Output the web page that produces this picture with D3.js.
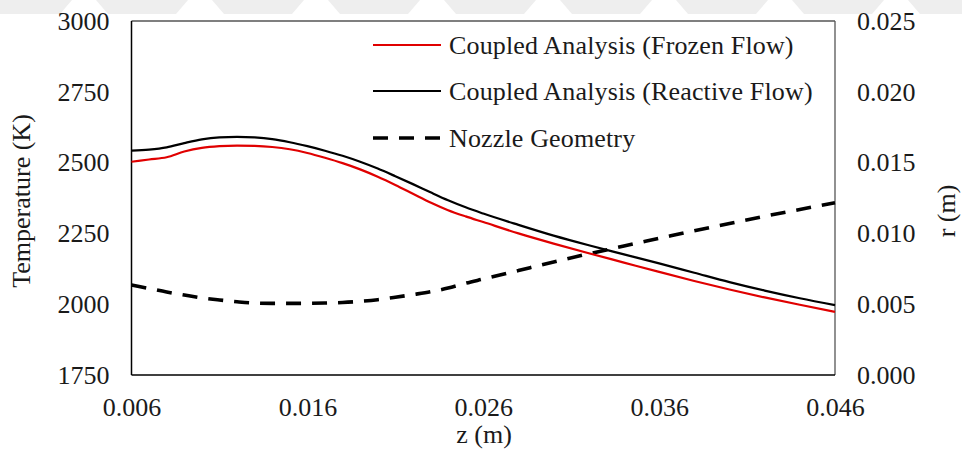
<!DOCTYPE html>
<html>
<head>
<meta charset="utf-8">
<script src="https://cdn.jsdelivr.net/npm/d3@7"></script>
<style>
  html, body { margin: 0; padding: 0; background: #fff; }
  svg { display: block; }
  text { font-family: "Liberation Serif", "Times New Roman", serif; fill: #1a1a1a; }
</style>
</head>
<body>
<svg id="chart" width="962" height="455"></svg>
<script>
// ---- data ----
const zValues = [0.006, 0.007, 0.008, 0.009, 0.010, 0.011, 0.012, 0.013, 0.014, 0.015,
                 0.016, 0.017, 0.018, 0.019, 0.020, 0.021, 0.022, 0.023, 0.024, 0.025,
                 0.026, 0.028, 0.030, 0.032, 0.034, 0.036, 0.038, 0.040, 0.042, 0.044, 0.046];
const frozenT = [2503, 2511, 2519, 2539, 2552, 2558, 2560, 2559, 2555, 2547,
                 2534, 2517, 2498, 2476, 2450, 2421, 2390, 2359, 2332, 2310,
                 2290, 2250, 2214, 2180, 2147, 2114, 2082, 2052, 2024, 1998, 1973];
const reactiveT = [2542, 2546, 2554, 2569, 2582, 2589, 2591, 2589, 2583, 2572,
                   2558, 2542, 2524, 2503, 2479, 2452, 2424, 2395, 2367, 2342,
                   2320, 2280, 2242, 2208, 2176, 2144, 2111, 2078, 2048, 2021, 1997];
const nozzleR = [0.00636, 0.00611, 0.00586, 0.00565, 0.00545, 0.00530, 0.00517, 0.00508, 0.00506, 0.00506,
                 0.00506, 0.00508, 0.00512, 0.00520, 0.00532, 0.00549, 0.00568, 0.00588, 0.00614, 0.00648,
                 0.00678, 0.00738, 0.00798, 0.00856, 0.00911, 0.00965, 0.01019, 0.01070, 0.01121, 0.01169, 0.01217];

const xTicks = [0.006, 0.016, 0.026, 0.036, 0.046];
const yLeftTicks = [1750, 2000, 2250, 2500, 2750, 3000];
const yRightTicks = [0.000, 0.005, 0.010, 0.015, 0.020, 0.025];

const seriesNames = ["Coupled Analysis (Frozen Flow)", "Coupled Analysis (Reactive Flow)", "Nozzle Geometry"];
const xTitle = "z (m)";
const yLeftTitle = "Temperature (K)";
const yRightTitle = "r (m)";

// ---- layout ----
const svg = d3.select("#chart");
const plot = { left: 131.5, right: 835, top: 21, bottom: 375 };
const FS = 26;

// faint watermark band at the top of the page
const wm = svg.append("g").attr("fill", "#eeeeee");
d3.range(0, 10).forEach(i => {
  const x0 = -20 + i * 116;
  wm.append("path").attr("d", `M${x0},0 L${x0 + 92},0 L${x0 + 80},14 L${x0 + 12},14 Z`);
});

const x = d3.scaleLinear().domain([0.006, 0.046]).range([plot.left, plot.right]);
const yL = d3.scaleLinear().domain([1750, 3000]).range([plot.bottom, plot.top]);
const yR = d3.scaleLinear().domain([0, 0.025]).range([plot.bottom, plot.top]);

// axes
const axL = svg.append("g").attr("transform", `translate(${plot.left},0)`)
  .call(d3.axisLeft(yL).tickValues(yLeftTicks).tickSize(0).tickPadding(22).tickFormat(d3.format("d")));
const axR = svg.append("g").attr("transform", `translate(${plot.right},0)`)
  .call(d3.axisRight(yR).tickValues(yRightTicks).tickSize(0).tickPadding(22).tickFormat(d3.format(".3f")));
const axB = svg.append("g").attr("transform", `translate(0,${plot.bottom})`)
  .call(d3.axisBottom(x).tickValues(xTicks).tickSize(0).tickPadding(23).tickFormat(d3.format(".3f")));
[axL, axR, axB].forEach(a => {
  a.select(".domain").remove();
  a.selectAll("text").style("font-family", '"Liberation Serif", serif').style("font-size", FS + "px").attr("fill", "#1a1a1a");
});

// frame
svg.append("line").attr("x1", plot.left).attr("x2", plot.right).attr("y1", plot.top).attr("y2", plot.top)
  .attr("stroke", "#555").attr("stroke-width", 1.3);
svg.append("line").attr("x1", plot.right).attr("x2", plot.right).attr("y1", plot.top).attr("y2", plot.bottom)
  .attr("stroke", "#555").attr("stroke-width", 1.3);
svg.append("line").attr("x1", plot.left).attr("x2", plot.left).attr("y1", plot.top).attr("y2", plot.bottom)
  .attr("stroke", "#000").attr("stroke-width", 1.5);
svg.append("line").attr("x1", plot.left).attr("x2", plot.right).attr("y1", plot.bottom).attr("y2", plot.bottom)
  .attr("stroke", "#000").attr("stroke-width", 1.5);

// lines
const lineT = (vals) => d3.line().x((d, i) => x(zValues[i])).y(d => yL(d)).curve(d3.curveMonotoneX)(vals);
const lineR = d3.line().x((d, i) => x(zValues[i])).y(d => yR(d)).curve(d3.curveMonotoneX);

svg.append("path").attr("d", lineR(nozzleR)).attr("fill", "none").attr("stroke", "#000")
  .attr("stroke-width", 3.6).attr("stroke-dasharray", "15,11");
svg.append("path").attr("d", lineT(reactiveT)).attr("fill", "none").attr("stroke", "#000").attr("stroke-width", 2.2);
svg.append("path").attr("d", lineT(frozenT)).attr("fill", "none").attr("stroke", "#e00000").attr("stroke-width", 2.2);

// legend
const legendRows = [
  { name: seriesNames[0], color: "#e00000", width: 2.2, dash: null, y: 45 },
  { name: seriesNames[1], color: "#000", width: 2.2, dash: null, y: 91 },
  { name: seriesNames[2], color: "#000", width: 3.6, dash: "15,11", y: 138 }
];
const lg = svg.append("g");
legendRows.forEach(r => {
  lg.append("line").attr("x1", 373).attr("x2", 441).attr("y1", r.y).attr("y2", r.y)
    .attr("stroke", r.color).attr("stroke-width", r.width).attr("stroke-dasharray", r.dash);
  lg.append("text").attr("x", 449).attr("y", r.y).attr("dominant-baseline", "central")
    .style("font-size", FS + "px").style("letter-spacing", "0.15px").text(r.name);
});

// axis titles
svg.append("text").attr("x", 484).attr("y", 443).attr("text-anchor", "middle")
  .style("font-size", FS + "px").text(xTitle);
svg.append("text").attr("transform", "translate(21,201) rotate(-90)").attr("text-anchor", "middle")
  .attr("dominant-baseline", "central").style("font-size", FS + "px").text(yLeftTitle);
svg.append("text").attr("transform", "translate(946,211) rotate(-90)").attr("text-anchor", "middle")
  .attr("dominant-baseline", "central").style("font-size", FS + "px").text(yRightTitle);
</script>
</body>
</html>
